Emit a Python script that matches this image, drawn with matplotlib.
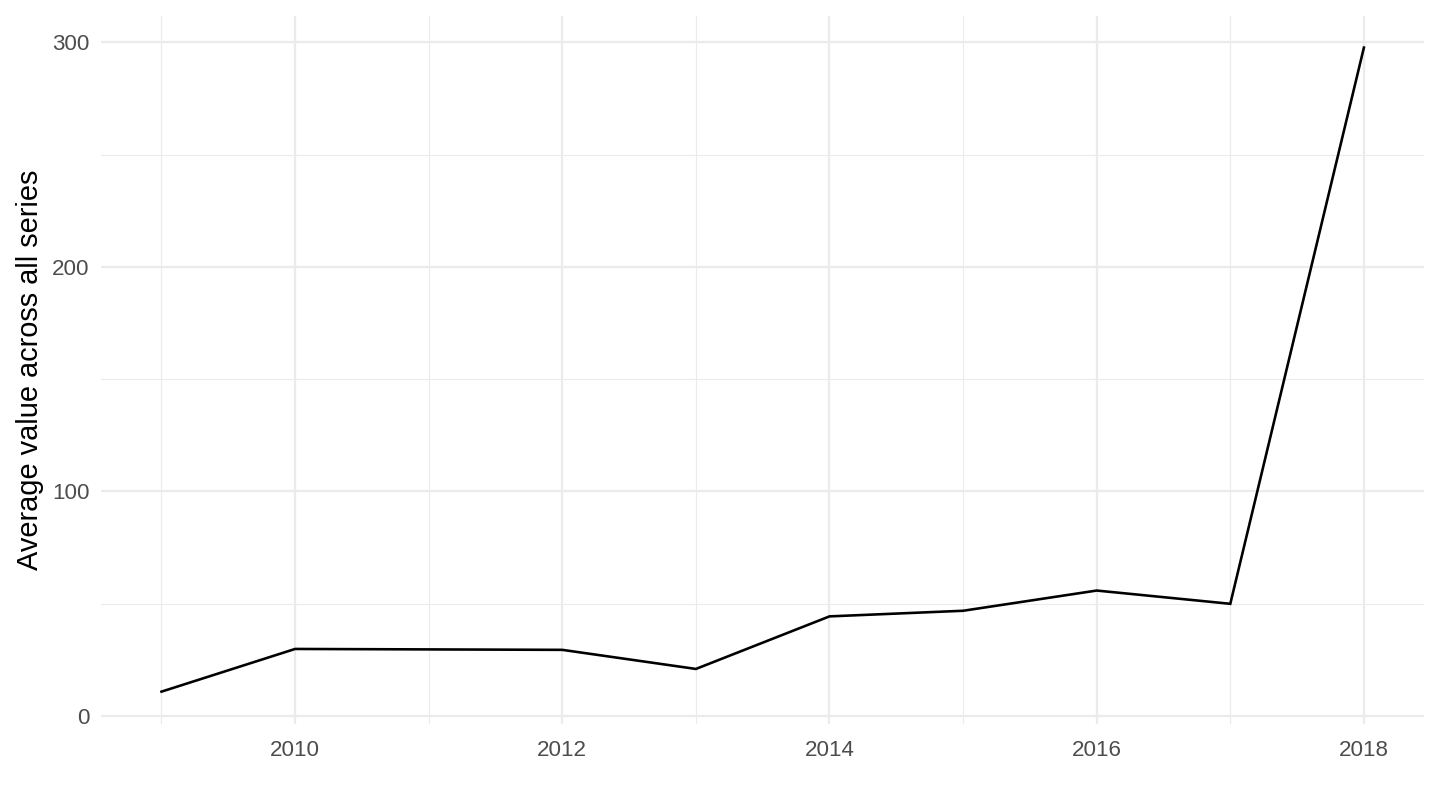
import numpy as np
import matplotlib
matplotlib.use("Agg")
import matplotlib.pyplot as plt

# values
years = [2009, 2010, 2011, 2012, 2013, 2014, 2015, 2016, 2017, 2018]
avg_value = [10.9, 29.9, 29.7, 29.5, 21.0, 44.4, 46.9, 55.9, 50.0, 297.6]
x_ticks = [2010, 2012, 2014, 2016, 2018]
y_ticks = [0, 100, 200, 300]
y_label = "Average value across all series"

plt.rcParams['font.family'] = ['Liberation Sans', 'DejaVu Sans']

fig = plt.figure(figsize=(10, 5.625), dpi=144)
ax = fig.add_axes([0.0704, 0.106, 0.9185, 0.874])

ax.plot(years, avg_value, color='black', lw=1.3, solid_joinstyle='miter', zorder=3)

# ggplot-like expansion of 5%, with 0 included on y
xr = max(years) - min(years)
ax.set_xlim(min(years) - 0.05 * xr, max(years) + 0.05 * xr)
yr = max(avg_value) - 0
ax.set_ylim(0 - 0.012 * yr, max(avg_value) + 0.047 * yr)

ax.set_xticks(x_ticks)
ax.set_xticks(years, minor=True)
ax.set_yticks(y_ticks)
ax.set_yticks([50, 150, 250], minor=True)

ax.grid(which='major', color='#EBEBEB', lw=1.1)
ax.grid(which='minor', color='#EBEBEB', lw=0.55)
ax.set_axisbelow(True)
for s in ax.spines.values():
    s.set_visible(False)
ax.tick_params(which='both', length=0, labelsize=11.2, labelcolor='#4D4D4D')
ax.tick_params(axis='x', pad=8)
ax.tick_params(axis='y', pad=6)

ax.set_ylabel(y_label, fontsize=14.5, color='black', labelpad=4)

fig.savefig("out.png", dpi=144)
